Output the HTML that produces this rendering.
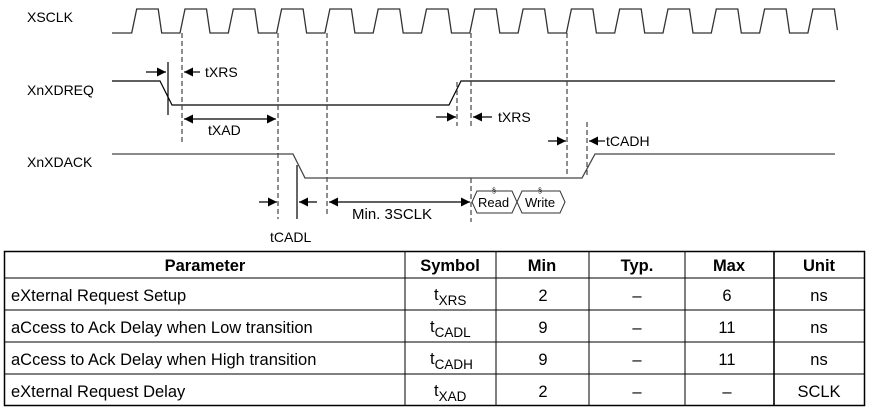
<!DOCTYPE html>
<html><head><meta charset="utf-8"><style>
html,body{margin:0;padding:0;background:#fff;width:869px;height:409px;overflow:hidden}
svg{position:absolute;left:0;top:0}
text{font-family:"Liberation Sans",Arial,sans-serif;fill:#000}
</style></head><body>
<svg width="869" height="409" viewBox="0 0 869 409">
<defs>
<marker id="a" viewBox="0 0 10 10" refX="10" refY="5" markerWidth="9" markerHeight="9" markerUnits="userSpaceOnUse" orient="auto"><path d="M0 0L10 5L0 10z" fill="#000"/></marker>
</defs>
<g font-size="14">
<text x="27" y="22">XSCLK</text>
<text x="27" y="95">XnXDREQ</text>
<text x="27" y="167">XnXDACK</text>
</g>
<path fill="none" stroke="#333" stroke-width="1.3" d="M112 33H131.7 l5 -24h21.5l3.5 24h18.3 l5 -24h21.5l3.5 24h18.3 l5 -24h21.5l3.5 24h18.3 l5 -24h21.5l3.5 24h18.3 l5 -24h21.5l3.5 24h18.3 l5 -24h21.5l3.5 24h18.3 l5 -24h21.5l3.5 24h18.3 l5 -24h21.5l3.5 24h18.3 l5 -24h21.5l3.5 24h18.3 l5 -24h21.5l3.5 24h18.3 l5 -24h21.5l3.5 24h18.3 l5 -24h21.5l3.5 24h18.3 l5 -24h21.5l3.5 24h18.3 l5 -24h21.5l3.5 24h18.3 l5 -24h21.5l3 21"/>
<path fill="none" stroke="#000" stroke-width="1.2" d="M112 81H160L172 105H449L461 81H835"/>
<path fill="none" stroke="#444" stroke-width="1.3" d="M112 154H293L305 178H582L595 154H835"/>
<g stroke="#000" stroke-width="1.2">
<line x1="168" y1="62" x2="168" y2="115"/>
<line x1="297" y1="165" x2="297" y2="219"/>
</g>
<g stroke="#444" stroke-width="1.2" stroke-dasharray="5,3" fill="none">
<line x1="182" y1="33" x2="182" y2="142"/>
<line x1="278" y1="33" x2="278" y2="219"/>
<line x1="327" y1="33" x2="327" y2="215"/>
<line x1="471" y1="33" x2="471" y2="127"/>
<line x1="471" y1="178" x2="471" y2="222"/>
<line x1="457" y1="82" x2="457" y2="126"/>
<line x1="567" y1="33" x2="567" y2="175"/>
<line x1="587" y1="122" x2="587" y2="175"/>
</g>
<g stroke="#000" stroke-width="1.2" marker-end="url(#a)">
<line x1="146" y1="72" x2="166" y2="72"/>
<line x1="200" y1="72" x2="184" y2="72"/>
<line x1="230" y1="119" x2="184" y2="119"/>
<line x1="230" y1="119" x2="276" y2="119"/>
<line x1="259" y1="202" x2="277" y2="202"/>
<line x1="317" y1="202" x2="299" y2="202"/>
<line x1="400" y1="202" x2="329" y2="202"/>
<line x1="400" y1="202" x2="470" y2="202"/>
<line x1="436" y1="117" x2="456" y2="117"/>
<line x1="492" y1="117" x2="473" y2="117"/>
<line x1="548" y1="141" x2="566" y2="141"/>
<line x1="605" y1="141" x2="589" y2="141"/>
</g>
<g font-size="14">
<text x="205" y="77">tXRS</text>
<text x="208" y="135">tXAD</text>
<text x="270" y="242">tCADL</text>
<text x="352" y="219" font-size="15">Min. 3SCLK</text>
<text x="498" y="122">tXRS</text>
<text x="606" y="146">tCADH</text>
</g>
<path fill="#fff" stroke="#333" stroke-width="1" d="M472 202L477 191H512L517 202L512 213H477Z M517 202L522 191H560L565 202L560 213H522Z"/>
<g font-size="13"><text x="478" y="207">Read</text><text x="525" y="207">Write</text></g>
<g font-size="7"><text x="492" y="193">§</text><text x="538" y="193">§</text></g>
<g fill="none" stroke="#000">
<rect x="4.5" y="251.5" width="860" height="154" stroke-width="1.5"/>
<g stroke-width="1">
<line x1="4" y1="278" x2="865" y2="278"/>
<line x1="4" y1="310" x2="865" y2="310"/>
<line x1="4" y1="342" x2="865" y2="342"/>
<line x1="4" y1="374" x2="865" y2="374"/>
<line x1="405" y1="251" x2="405" y2="406"/>
<line x1="496" y1="251" x2="496" y2="406"/>
<line x1="589" y1="251" x2="589" y2="406"/>
<line x1="685" y1="251" x2="685" y2="406"/>
</g>
<line x1="774" y1="251" x2="774" y2="406" stroke-width="1.6"/>
</g>
<g font-size="16.5" font-weight="bold" text-anchor="middle">
<text x="205" y="271">Parameter</text>
<text x="450" y="271">Symbol</text>
<text x="542" y="271">Min</text>
<text x="637" y="271">Typ.</text>
<text x="729" y="271">Max</text>
<text x="819" y="271">Unit</text>
</g>
<g font-size="16.5">
<text x="11" y="301">eXternal Request Setup</text>
<text x="11" y="333">aCcess to Ack Delay when Low transition</text>
<text x="11" y="365">aCcess to Ack Delay when High transition</text>
<text x="11" y="397">eXternal Request Delay</text>
</g>
<g font-size="16.5">
<text x="434" y="300">t<tspan font-size="13.5" dy="5">XRS</tspan></text>
<text x="430" y="332">t<tspan font-size="13.5" dy="5">CADL</tspan></text>
<text x="430" y="364">t<tspan font-size="13.5" dy="5">CADH</tspan></text>
<text x="434" y="396">t<tspan font-size="13.5" dy="5">XAD</tspan></text>
</g>
<g font-size="16.5" text-anchor="middle">
<text x="543" y="301">2</text><text x="637" y="301">–</text><text x="727" y="301">6</text><text x="819" y="301">ns</text>
<text x="543" y="333">9</text><text x="637" y="333">–</text><text x="727" y="333">11</text><text x="819" y="333">ns</text>
<text x="543" y="365">9</text><text x="637" y="365">–</text><text x="727" y="365">11</text><text x="819" y="365">ns</text>
<text x="543" y="397">2</text><text x="637" y="397">–</text><text x="727" y="397">–</text><text x="819" y="397">SCLK</text>
</g>
</svg>
</body></html>
